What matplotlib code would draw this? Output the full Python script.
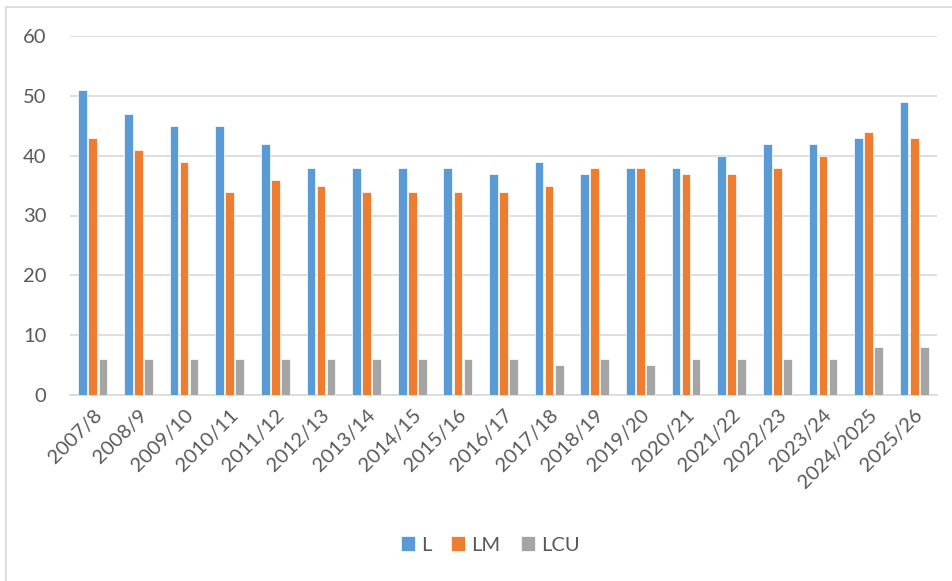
import numpy as np
import matplotlib
matplotlib.use('Agg')
from matplotlib import pyplot as plt
from matplotlib.patches import Rectangle

# Data
years = ['2007/8', '2008/9', '2009/10', '2010/11', '2011/12', '2012/13', '2013/14',
         '2014/15', '2015/16', '2016/17', '2017/18', '2018/19', '2019/20', '2020/21',
         '2021/22', '2022/23', '2023/24', '2024/2025', '2025/26']
L = [51, 47, 45, 45, 42, 38, 38, 38, 38, 37, 39, 37, 38, 38, 40, 42, 42, 43, 49]
LM = [43, 41, 39, 34, 36, 35, 34, 34, 34, 34, 35, 38, 38, 37, 37, 38, 40, 44, 43]
LCU = [6, 6, 6, 6, 6, 6, 6, 6, 6, 6, 5, 6, 5, 6, 6, 6, 6, 8, 8]

plt.rcParams['font.family'] = ['Lato', 'DejaVu Sans']
text_col = '#595959'
grid_col = '#d9d9d9'

fig = plt.figure(figsize=(9.52, 5.81), dpi=100)
ax = fig.add_axes([70/952, 1-395/581, (937-70)/952, (395-36)/581])

# outer chart border (bottom and right run off the picture)
fig.patches.append(Rectangle((6/952, -0.1), 1.2, 1.1-7/581, transform=fig.transFigure,
                             fill=False, edgecolor=grid_col, linewidth=1.2))

x = np.arange(len(years))
w = 0.19
ax.bar(x - 0.22, L, w, color='#5b9bd5', edgecolor='white', linewidth=0.5, label='L', zorder=3)
ax.bar(x, LM, w, color='#ed7d31', edgecolor='white', linewidth=0.5, label='LM', zorder=3)
ax.bar(x + 0.22, LCU, w, color='#a5a5a5', edgecolor='white', linewidth=0.5, label='LCU', zorder=3)

ax.set_xlim(-0.5, len(years) - 0.5)
ax.set_ylim(0, 60)
ax.set_yticks(range(0, 61, 10))
ax.yaxis.grid(True, color=grid_col, linewidth=1.2, zorder=0)
for s in ['top', 'right', 'left']:
    ax.spines[s].set_visible(False)
ax.spines['bottom'].set_color(grid_col)
ax.spines['bottom'].set_linewidth(1.2)
ax.tick_params(axis='both', length=0, colors=text_col, labelsize=14.5)
ax.tick_params(axis='y', pad=17)
ax.set_xticks(x)
ax.set_xticklabels(years, rotation=45, ha='right', rotation_mode='anchor')
ax.tick_params(axis='x', pad=8)

leg = fig.legend(loc='center', bbox_to_anchor=(490/952, 1-545/581), ncol=3, frameon=False,
                 fontsize=14.5, handlelength=0.7, handleheight=0.7, handletextpad=0.3,
                 columnspacing=1.0)
for t in leg.get_texts():
    t.set_color(text_col)

fig.savefig('out.png', dpi=100)
